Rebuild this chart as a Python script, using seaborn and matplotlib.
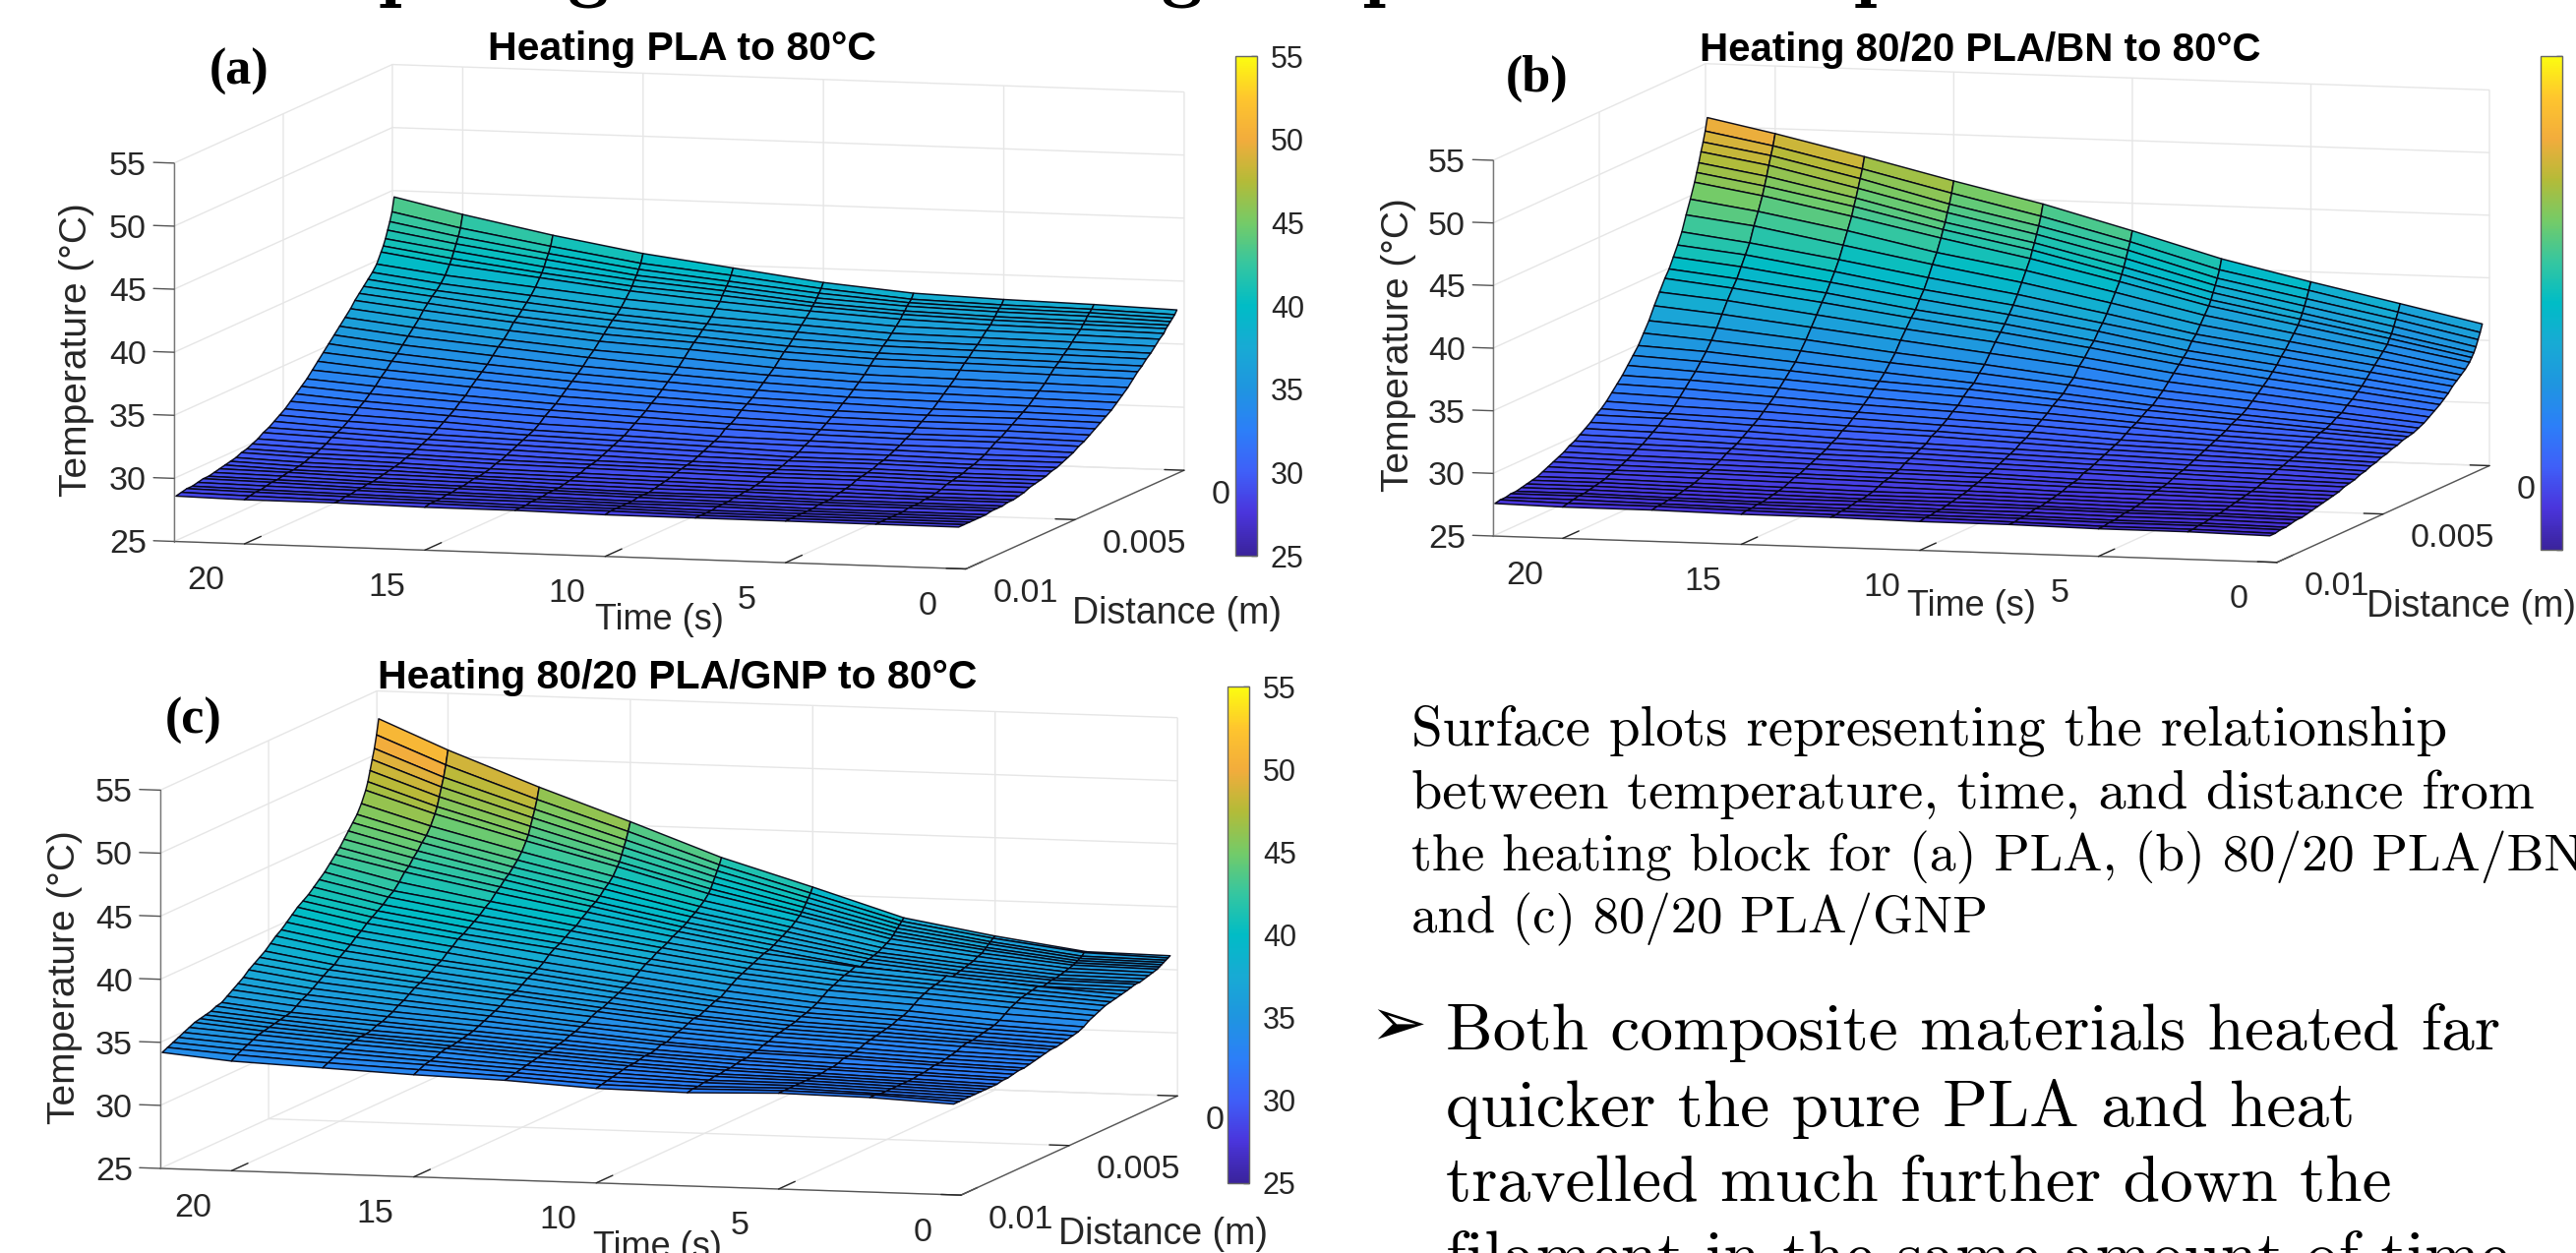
import numpy as np
import matplotlib
matplotlib.use("Agg")
import matplotlib.pyplot as plt
import seaborn as sns
from mpl_toolkits.mplot3d import proj3d

W, H = 2619, 1274
times_s = [0.2, 2.5, 5, 7.5, 10, 12.5, 15, 17.5, 20, 21.9]
distance_mm = [0, .1, .2, .3, .4, .5, .6, .8, 1, 1.2, 1.4, 1.6, 1.8, 2, 2.25, 2.5, 2.75, 3, 3.25, 3.5, 3.75, 4,
               4.25, 4.5, 4.75, 5, 5.25, 5.5, 5.75, 6, 6.25, 6.5, 6.75, 7, 7.25, 7.5, 7.75, 8, 8.25, 8.5, 8.75,
               9, 9.25, 9.5, 9.75, 10]
temp_pla = [
[37.7,37.9,38.05,38.3,38.9,39.8,40.7,41.9,43.3,44.5],[37.4,37.6,37.7,37.9,38.5,39.3,40.0,41.1,42.3,43.4],
[37.2,37.4,37.5,37.7,38.2,38.9,39.6,40.6,41.7,42.7],[37.0,37.2,37.3,37.5,37.9,38.6,39.2,40.2,41.2,42.1],
[36.8,36.9,37.0,37.2,37.6,38.3,38.9,39.7,40.7,41.5],[36.6,36.7,36.8,37.0,37.4,38.0,38.5,39.3,40.2,41.0],
[36.3,36.4,36.5,36.7,37.1,37.6,38.2,39.0,39.8,40.6],[36.0,36.1,36.2,36.3,36.7,37.2,37.7,38.4,39.1,39.8],
[35.6,35.7,35.8,35.9,36.3,36.7,37.2,37.9,38.6,39.3],[35.2,35.3,35.4,35.5,35.9,36.3,36.8,37.5,38.2,38.9],
[34.9,35.0,35.1,35.2,35.5,36.0,36.5,37.1,37.9,38.5],[34.5,34.6,34.7,34.8,35.1,35.6,36.1,36.7,37.5,38.1],
[34.2,34.3,34.4,34.5,34.8,35.3,35.7,36.4,37.1,37.7],[33.8,33.9,34.0,34.1,34.4,34.9,35.3,35.9,36.6,37.2],
[33.3,33.4,33.5,33.6,33.9,34.4,34.8,35.4,36.1,36.7],[32.9,33.0,33.1,33.2,33.5,33.9,34.4,35.0,35.6,36.2],
[32.5,32.6,32.7,32.8,33.1,33.5,33.9,34.5,35.1,35.7],[32.1,32.2,32.3,32.4,32.7,33.1,33.5,34.0,34.6,35.2],
[31.8,31.9,31.9,32.1,32.3,32.7,33.1,33.6,34.2,34.7],[31.5,31.6,31.6,31.7,32.0,32.3,32.7,33.2,33.7,34.2],
[31.2,31.3,31.3,31.4,31.7,32.0,32.3,32.8,33.3,33.7],[30.9,31.0,31.0,31.1,31.3,31.6,31.9,32.3,32.8,33.2],
[30.6,30.7,30.7,30.8,31.0,31.3,31.6,32.0,32.4,32.8],[30.4,30.5,30.5,30.6,30.8,31.0,31.3,31.6,32.0,32.4],
[30.1,30.2,30.2,30.3,30.4,30.7,30.9,31.3,31.7,32.0],[29.9,29.9,30.0,30.1,30.2,30.4,30.6,31.0,31.3,31.6],
[29.7,29.7,29.8,29.8,30.0,30.2,30.4,30.7,31.0,31.3],[29.5,29.5,29.6,29.6,29.8,30.0,30.2,30.4,30.7,31.0],
[29.4,29.4,29.5,29.5,29.6,29.8,30.0,30.2,30.5,30.7],[29.2,29.2,29.3,29.3,29.4,29.6,29.8,30.0,30.3,30.5],
[29.1,29.1,29.2,29.2,29.3,29.4,29.6,29.8,30.0,30.2],[29.0,29.0,29.1,29.1,29.2,29.3,29.4,29.6,29.8,30.0],
[28.9,28.9,29.0,29.0,29.1,29.2,29.3,29.5,29.6,29.8],[28.7,28.7,28.8,28.8,28.9,29.0,29.1,29.3,29.5,29.7],
[28.6,28.6,28.7,28.7,28.8,28.9,29.0,29.2,29.3,29.5],[28.5,28.5,28.6,28.6,28.7,28.8,28.9,29.1,29.2,29.4],
[28.5,28.5,28.5,28.6,28.6,28.7,28.9,29.0,29.1,29.3],[28.4,28.4,28.4,28.5,28.5,28.6,28.8,28.9,29.1,29.2],
[28.4,28.4,28.4,28.5,28.5,28.6,28.7,28.8,29.0,29.1],[28.4,28.4,28.4,28.4,28.5,28.6,28.7,28.8,28.9,29.0],
[28.3,28.3,28.3,28.4,28.4,28.5,28.6,28.7,28.9,29.0],[28.3,28.3,28.3,28.4,28.4,28.5,28.6,28.7,28.8,28.9],
[28.3,28.3,28.3,28.3,28.4,28.5,28.5,28.6,28.7,28.8],[28.3,28.3,28.3,28.3,28.4,28.4,28.5,28.6,28.7,28.8],
[28.3,28.3,28.3,28.3,28.4,28.4,28.5,28.5,28.6,28.7],[28.3,28.3,28.3,28.3,28.3,28.4,28.4,28.5,28.5,28.6]]
temp_bn = [
[36.3,37.7,39.2,40.8,42.8,44.7,46.3,48.0,49.6,50.7],[35.7,37.1,38.6,40.0,42.0,43.8,45.4,47.1,48.7,49.7],
[35.2,36.6,38.0,39.4,41.4,43.1,44.6,46.4,48.0,48.9],[34.7,36.1,37.5,38.9,40.8,42.5,44.0,45.7,47.3,48.2],
[34.3,35.6,37.0,38.4,40.2,41.9,43.3,45.0,46.5,47.4],[34.0,35.3,36.6,37.9,39.7,41.4,42.8,44.4,45.8,46.7],
[33.7,34.9,36.2,37.5,39.2,40.8,42.2,43.7,45.1,46.0],[33.3,34.5,35.7,36.9,38.5,40.0,41.2,42.7,44.0,44.8],
[33.0,34.1,35.2,36.3,37.8,39.2,40.4,41.7,43.0,43.7],[32.7,33.7,34.7,35.7,37.1,38.4,39.5,40.7,41.8,42.5],
[32.4,33.3,34.3,35.3,36.5,37.7,38.7,39.9,41.0,41.6],[32.0,32.9,33.8,34.7,36.0,37.1,38.1,39.2,40.2,40.8],
[31.7,32.5,33.4,34.3,35.4,36.5,37.4,38.5,39.4,40.0],[31.4,32.2,33.0,33.9,35.0,36.0,36.9,37.9,38.8,39.4],
[31.1,31.8,32.6,33.4,34.4,35.4,36.2,37.1,38.0,38.5],[30.8,31.5,32.2,32.9,33.9,34.7,35.5,36.3,37.1,37.6],
[30.5,31.1,31.8,32.4,33.2,34.0,34.7,35.5,36.2,36.6],[30.3,30.9,31.4,32.0,32.8,33.5,34.1,34.8,35.4,35.8],
[30.1,30.6,31.1,31.6,32.3,32.9,33.5,34.1,34.7,35.0],[30.0,30.4,30.9,31.4,32.0,32.6,33.0,33.6,34.1,34.4],
[29.9,30.3,30.7,31.1,31.7,32.2,32.6,33.1,33.5,33.8],[29.7,30.1,30.4,30.8,31.3,31.7,32.1,32.6,33.0,33.2],
[29.6,29.9,30.2,30.6,31.0,31.4,31.7,32.1,32.5,32.7],[29.4,29.7,30.0,30.3,30.7,31.0,31.3,31.7,32.0,32.2],
[29.3,29.5,29.8,30.0,30.4,30.7,31.0,31.3,31.5,31.7],[29.1,29.3,29.6,29.8,30.1,30.4,30.6,30.9,31.1,31.3],
[29.0,29.2,29.4,29.6,29.9,30.2,30.4,30.6,30.9,31.0],[28.8,29.0,29.2,29.4,29.6,29.8,30.0,30.3,30.5,30.6],
[28.7,28.9,29.0,29.2,29.4,29.6,29.8,30.0,30.2,30.3],[28.5,28.7,28.8,29.0,29.2,29.4,29.5,29.7,29.9,30.0],
[28.4,28.5,28.7,28.8,29.0,29.2,29.3,29.5,29.6,29.7],[28.3,28.4,28.5,28.7,28.8,29.0,29.1,29.3,29.4,29.5],
[28.1,28.2,28.3,28.4,28.6,28.7,28.9,29.0,29.1,29.2],[28.0,28.1,28.2,28.3,28.5,28.6,28.7,28.8,28.9,29.0],
[27.9,28.0,28.1,28.2,28.3,28.4,28.5,28.6,28.7,28.8],[27.8,27.9,28.0,28.0,28.2,28.3,28.4,28.5,28.5,28.6],
[27.7,27.8,27.8,27.9,28.0,28.1,28.2,28.3,28.4,28.4],[27.6,27.7,27.7,27.8,27.9,27.9,28.0,28.1,28.2,28.2],
[27.5,27.6,27.6,27.7,27.8,27.8,27.9,28.0,28.1,28.1],[27.4,27.5,27.5,27.6,27.7,27.7,27.8,27.9,28.0,28.0],
[27.4,27.5,27.5,27.6,27.6,27.7,27.7,27.8,27.9,27.9],[27.3,27.4,27.4,27.5,27.5,27.6,27.6,27.7,27.8,27.8],
[27.2,27.3,27.3,27.4,27.5,27.5,27.6,27.7,27.8,27.8],[27.2,27.3,27.3,27.4,27.4,27.5,27.5,27.6,27.7,27.7],
[27.1,27.2,27.2,27.3,27.4,27.4,27.5,27.6,27.6,27.7],[27.1,27.2,27.2,27.3,27.3,27.4,27.4,27.5,27.5,27.6]]
temp_gnp = [
[36.1,36.2,37.2,38.4,40.6,42.7,45.3,47.8,50.5,52.8],[36.0,36.2,37.1,38.2,40.2,42.2,44.6,46.9,49.4,51.6],
[35.9,36.0,36.9,38.0,39.9,41.8,44.0,46.2,48.5,50.6],[35.8,35.9,36.8,37.8,39.6,41.4,43.5,45.6,47.8,49.8],
[35.7,35.8,36.6,37.6,39.3,41.0,43.0,45.0,47.1,49.0],[35.6,35.7,36.5,37.4,39.0,40.6,42.5,44.4,46.4,48.2],
[35.5,35.6,36.3,37.2,38.8,40.3,42.2,44.0,45.9,47.6],[35.4,35.5,36.2,37.0,38.5,39.9,41.6,43.3,45.1,46.7],
[35.3,35.4,36.0,36.8,38.2,39.6,41.2,42.8,44.5,46.0],[35.2,35.3,35.9,36.6,38.0,39.3,40.9,42.4,44.1,45.5],
[35.1,35.2,35.8,36.5,37.8,39.1,40.5,42.0,43.6,45.0],[35.1,35.2,35.7,36.4,37.6,38.8,40.2,41.7,43.2,44.5],
[35.0,35.1,35.6,36.3,37.4,38.6,40.0,41.3,42.7,44.0],[34.9,35.0,35.5,36.1,37.2,38.4,39.7,41.0,42.4,43.6],
[34.8,35.2,35.8,36.3,37.1,38.2,39.4,40.5,41.8,43.1],[34.7,35.1,35.6,36.1,36.9,37.9,39.0,40.2,41.3,42.6],
[34.6,35.0,35.5,36.0,36.7,37.7,38.8,39.8,41.0,42.2],[34.5,34.9,35.4,35.8,36.5,37.5,38.5,39.5,40.6,41.8],
[34.3,34.7,35.2,35.6,36.3,37.2,38.2,39.2,40.3,41.4],[34.1,34.5,35.0,35.4,36.1,37.0,38.0,38.9,40.0,41.1],
[33.9,34.2,34.7,35.1,35.8,36.7,37.7,38.7,39.7,40.8],[33.6,33.9,34.4,34.8,35.5,36.4,37.3,38.3,39.3,40.4],
[33.4,33.7,34.2,34.6,35.2,36.1,37.0,38.0,39.0,40.0],[33.3,33.6,34.1,34.4,35.1,35.9,36.8,37.6,38.6,39.6],
[33.2,33.5,33.9,34.3,34.9,35.7,36.6,37.4,38.3,39.3],[33.1,33.4,33.8,34.1,34.7,35.5,36.3,37.1,38.0,38.9],
[33.0,33.3,33.7,34.0,34.5,35.3,36.0,36.8,37.6,38.5],[33.0,33.3,33.6,33.9,34.5,35.1,35.9,36.6,37.4,38.2],
[32.9,33.2,33.5,33.8,34.3,35.0,35.7,36.4,37.1,37.9],[32.8,33.0,33.4,33.7,34.1,34.8,35.4,36.1,36.8,37.6],
[32.7,32.9,33.2,33.5,34.0,34.5,35.2,35.8,36.5,37.2],[32.6,32.8,33.1,33.4,33.8,34.4,35.0,35.6,36.2,36.9],
[32.5,32.7,33.0,33.2,33.6,34.2,34.8,35.3,36.0,36.6],[32.5,32.7,33.0,33.2,33.6,34.1,34.6,35.1,35.7,36.3],
[32.4,32.6,32.8,33.0,33.4,33.9,34.4,34.9,35.4,36.0],[32.3,32.5,32.7,33.0,33.3,33.8,34.3,34.8,35.3,35.9],
[32.3,32.5,32.7,32.9,33.3,33.7,34.2,34.6,35.2,35.7],[32.2,32.4,32.6,32.8,33.2,33.6,34.1,34.5,35.1,35.6],
[32.2,32.4,32.6,32.8,33.1,33.6,34.0,34.5,35.0,35.5],[32.2,32.4,32.6,32.7,33.1,33.5,34.0,34.4,34.9,35.4],
[32.2,32.4,32.6,32.7,33.0,33.4,33.9,34.3,34.8,35.2],[32.2,32.4,32.6,32.6,32.9,33.3,33.7,34.1,34.6,35.0],
[32.2,32.4,32.6,32.6,32.8,33.2,33.6,34.0,34.4,34.8],[32.2,32.4,32.6,32.5,32.7,33.1,33.5,33.8,34.2,34.6],
[32.2,32.5,32.6,32.5,32.6,33.0,33.3,33.6,34.0,34.4],[32.2,32.5,32.6,32.4,32.5,32.9,33.1,33.4,33.7,34.2]]

time_ticks = [0, 5, 10, 15, 20]
dist_ticks = [0, 0.005, 0.01]
dist_labels = ["0", "0.005", "0.01"]
temp_ticks = [25, 30, 35, 40, 45, 50, 55]
titles = ["Heating PLA to 80°C", "Heating 80/20 PLA/BN to 80°C", "Heating 80/20 PLA/GNP to 80°C"]
panel_tags = ["(a)", "(b)", "(c)"]
caption = ["Surface plots representing the relationship",
           "between temperature, time, and distance from",
           "the heating block for (a) PLA, (b) 80/20 PLA/BN,",
           "and (c) 80/20 PLA/GNP"]
bullet = ["Both composite materials heated far",
          "quicker the pure PLA and heat",
          "travelled much further down the",
          "filament in the same amount of time"]
heading_words = ["Comparing", "Heating", "temperature", "comparison"]

sns.set_theme(style="white")
plt.rcParams["font.family"] = ["Liberation Sans", "DejaVu Sans"]
parula_anchors = ["#3a239c", "#4a35dc", "#3f5ff8", "#2c7ff8", "#1f95e0", "#18aad4", "#00bcc6", "#35c6a0",
                  "#74cb68", "#b4bb38", "#f2ac3c", "#fec52e", "#fcfc10"]
parula = sns.blend_palette(parula_anchors, n_colors=256, as_cmap=True)
norm = matplotlib.colors.Normalize(25, 55)
INK = "#262626"
AXIS = "#555555"

fig = plt.figure(figsize=(W / 100, H / 100), dpi=100, facecolor="white")


def fx(x):
    return x / W


def fy(y):
    return 1 - y / H


def project(ax, x, y, z):
    xs, ys, _ = proj3d.proj_transform(x, y, z, ax.get_proj())
    return ax.transData.transform((xs, ys))


panels = [
    dict(z=temp_pla, fl=(177, 550.5), fr=(982, 578), azim=105.5, elev=7.2, aspect=(836, 831, 388), tsize=29.5,
         title=(693, 50), tag=(243, 73), tlab=(670, 630), dlab=(1196, 624), zlab=(78, 356), cb=(1256, 57, 1278, 565)),
    dict(z=temp_bn, fl=(1518, 545), fr=(2315, 572), azim=105.2, elev=7.1, aspect=(826, 824, 385), tsize=29,
         title=(2013, 51), tag=(1563, 80), tlab=(2004, 617), dlab=(2513, 617), zlab=(1422, 351), cb=(2583, 57, 2605, 559)),
    dict(z=temp_gnp, fl=(163, 1188), fr=(977, 1215), azim=105.1, elev=7.1, aspect=(844, 846, 388), tsize=29.5,
         title=(689, 689), tag=(197, 733), tlab=(668, 1268), dlab=(1182, 1255), zlab=(66, 994), cb=(1248, 698, 1270, 1203)),
]

T, D = np.meshgrid(times_s, np.array(distance_mm) / 1000.0)
TMAX = 21.95
ZTICK = 0.57
for i, p in enumerate(panels):
    ax = fig.add_axes([0.1, 0.1, 0.4, 0.8], projection="3d", proj_type="ortho", computed_zorder=False)
    ax.patch.set_alpha(0)
    ax.view_init(elev=p["elev"], azim=p["azim"])
    surf = ax.plot_surface(T, D, np.array(p["z"]), rstride=1, cstride=1, cmap=parula, norm=norm, shade=False,
                           edgecolor=(0.02, 0.02, 0.08, 0.95), linewidth=1.05, antialiased=True)
    surf.set_clip_on(False)
    # temperature axis on the front left corner
    ax.plot([TMAX, TMAX], [0.01, 0.01], [25, 55], color="#777777", lw=1.0, clip_on=False)
    for z in temp_ticks:
        ax.plot([TMAX, TMAX + ZTICK], [0.01, 0.01], [z, z], color=AXIS, lw=1.0, clip_on=False)
    ax.set_xlim(0, TMAX, view_margin=0)
    ax.set_ylim(0, 0.01, view_margin=0)
    ax.set_zlim(25, 55, view_margin=0)
    ax.set_xticks(time_ticks)
    ax.set_yticks(dist_ticks)
    ax.set_zticks(temp_ticks)
    ax.set_xticklabels([""] * len(time_ticks))
    ax.set_yticklabels([""] * len(dist_ticks))
    ax.set_zticklabels([""] * len(temp_ticks))
    ax.zaxis.set_ticks_position("none")
    ax.zaxis.line.set_visible(False)
    for axis, tick_out in ((ax.xaxis, 0.95), (ax.yaxis, 0.31), (ax.zaxis, 0.31)):
        axis.set_pane_color((1, 1, 1, 0))
        axis.pane.set_edgecolor("#e2e2e2")
        axis._axinfo["grid"].update(color="#e6e6e6", linewidth=1.0)
        axis._axinfo["tick"].update(inward_factor=0.0, outward_factor=tick_out,
                                    linewidth={True: 1.0, False: 1.0}, color=AXIS)
        axis._axinfo["axisline"].update(color=AXIS, linewidth=1.0)
        axis.line.set_color(AXIS)
        axis.line.set_linewidth(1.0)
        axis.line.set_clip_on(False)
    # fit the box onto its place in the figure
    zoom = 1.0
    aspect = p["aspect"]
    ax.set_box_aspect(aspect, zoom=zoom)
    for _ in range(4):
        ax.apply_aspect()
        a = project(ax, TMAX, 0.01, 25)
        b = project(ax, 0, 0.01, 25)
        zoom *= (p["fr"][0] - p["fl"][0]) / (b[0] - a[0])
        ax.set_box_aspect(aspect, zoom=zoom)
        ax.apply_aspect()
        a = project(ax, TMAX, 0.01, 25)
        dx = p["fl"][0] - a[0]
        dy = (H - p["fl"][1]) - a[1]
        pos = ax.get_position()
        ax.set_position([pos.x0 + dx / W, pos.y0 + dy / H, pos.width, pos.height])
    ax.apply_aspect()
    # tick labels sit at fixed offsets from where the axes put each tick
    for t in time_ticks:
        q = project(ax, t, 0.01, 25)
        fig.text((q[0] - 39) / W, (q[1] - 38) / H, str(t), ha="center", va="center", fontsize=24.5, color=INK)
    for d, lab in zip(dist_ticks, dist_labels):
        q = project(ax, 0, d, 25)
        fig.text((q[0] + 28) / W, (q[1] - 25) / H, lab, ha="left", va="center", fontsize=24.5, color=INK)
    for z in temp_ticks:
        q = project(ax, TMAX, 0.01, z)
        fig.text((q[0] - 28) / W, (q[1] - 3.5) / H, str(z), ha="right", va="center", fontsize=24.5, color=INK)
    fig.text(fx(p["title"][0]), fy(p["title"][1]), titles[i], ha="center", va="center", fontsize=p["tsize"],
             fontweight="bold", color="black")
    fig.text(fx(p["tag"][0]), fy(p["tag"][1]), panel_tags[i], ha="center", va="center", fontsize=37.5,
             fontweight="bold", family="Liberation Serif", color="black")
    fig.text(fx(p["tlab"][0]), fy(p["tlab"][1]), "Time (s)", ha="center", va="center", fontsize=26, color=INK)
    fig.text(fx(p["dlab"][0]), fy(p["dlab"][1]), "Distance (m)", ha="center", va="center", fontsize=27, color=INK)
    fig.text(fx(p["zlab"][0]), fy(p["zlab"][1]), "Temperature (°C)", ha="center", va="center", rotation=90,
             fontsize=28, color=INK)
    x0, y0, x1, y1 = p["cb"]
    cax = fig.add_axes([fx(x0), fy(y1), (x1 - x0) / W, (y1 - y0) / H])
    cb = fig.colorbar(matplotlib.cm.ScalarMappable(norm=norm, cmap=parula), cax=cax, ticks=temp_ticks)
    cb.ax.tick_params(direction="in", length=4, width=1, labelsize=22, pad=10, colors=INK, right=True)
    cb.outline.set_edgecolor("#666666")
    cb.outline.set_linewidth(1.0)

serif = ["cmr10", "DejaVu Sans"]
for line, y, size in zip(caption, [743, 808, 872, 935], [41, 40.6, 38.6, 38]):
    fig.text(fx(1435), fy(y), line, ha="left", va="center", fontsize=size, family=serif, color="black")
for line, y in zip(bullet, [1050, 1127, 1204, 1281]):
    fig.text(fx(1470), fy(y), line, ha="left", va="center", fontsize=48.5, family=serif, color="black")
fig.text(fx(1421), fy(1044), "\u27a2", ha="center", va="center", fontsize=50, family="DejaVu Sans", color="black")

for word, x, ha, in zip(heading_words, [619, 1222, 1245, 1737], ["right", "right", "left", "left"]):
    fig.text(fx(x), fy(-8), word, ha=ha, va="baseline", fontsize=60, family="cmb10", color="black")

fig.savefig("out.png", dpi=100, facecolor="white")
